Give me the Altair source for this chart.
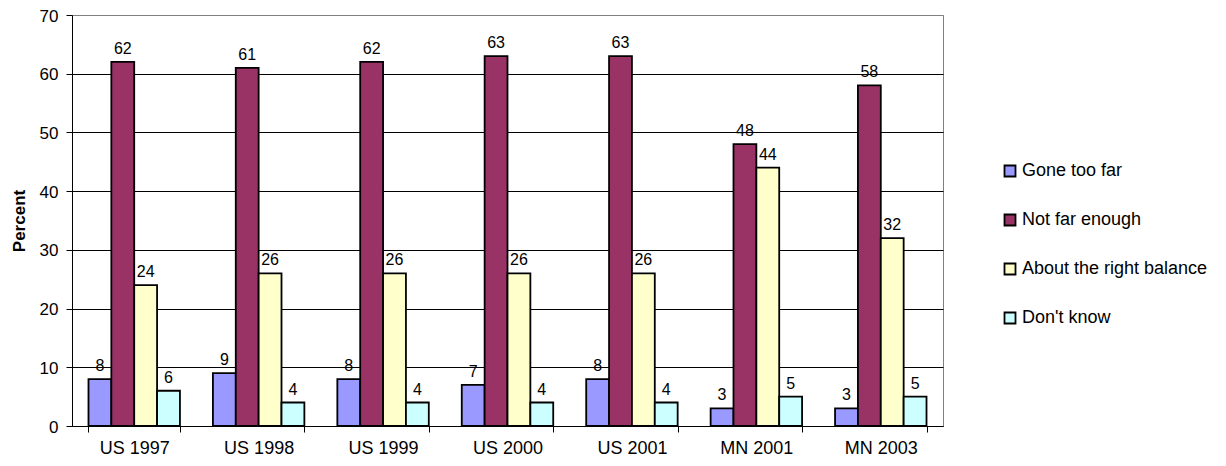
import altair as alt
import pandas as pd

categories = ["US 1997", "US 1998", "US 1999", "US 2000", "US 2001", "MN 2001", "MN 2003"]
series = ["Gone too far", "Not far enough", "About the right balance", "Don't know"]
gone_too_far = [8, 9, 8, 7, 8, 3, 3]
not_far_enough = [62, 61, 62, 63, 63, 48, 58]
right_balance = [24, 26, 26, 26, 26, 44, 32]
dont_know = [6, 4, 4, 4, 4, 5, 5]
colors = ["#9999FF", "#993366", "#FFFFCC", "#CCFFFF"]

values = [gone_too_far, not_far_enough, right_balance, dont_know]
rows = []
for s, vals in zip(series, values):
    for c, v in zip(categories, vals):
        rows.append({"Year": c, "Response": s, "Percent": v})
df = pd.DataFrame(rows)

FONT = "Liberation Sans"

x = alt.X("Year:N", sort=categories, title=None,
          scale=alt.Scale(paddingInner=0.265, paddingOuter=0.1325),
          axis=alt.Axis(labelAngle=0, labelFontSize=18, labelFont=FONT, labelColor="black",
                        domainColor="black", tickColor="black", tickBand="extent",
                        tickSize=6, labelPadding=7))
xo = alt.XOffset("Response:N", sort=series)
y = alt.Y("Percent:Q", title="Percent",
          scale=alt.Scale(domain=[0, 70]),
          axis=alt.Axis(values=[0, 10, 20, 30, 40, 50, 60, 70], labelFontSize=17, labelFont=FONT,
                        labelColor="black", titleFont=FONT, titleFontSize=17, titleFontWeight="bold",
                        titleColor="black", titlePadding=11, domainColor="black", tickColor="black",
                        tickSize=6, labelPadding=8, labelOffset=1,
                        gridColor={"condition": {"test": "datum.value >= 70", "value": "#808080"},
                                   "value": "#000000"}))

bars = alt.Chart(df).mark_bar(stroke="black", strokeWidth=1.8).encode(
    x=x, xOffset=xo, y=y,
    color=alt.Color("Response:N", sort=series, title=None,
                    scale=alt.Scale(domain=series, range=colors),
                    legend=alt.Legend(orient="none", legendX=929, legendY=147,
                                      symbolType="square", symbolSize=121,
                                      symbolStrokeColor="black", symbolStrokeWidth=1.8,
                                      labelFont=FONT, labelFontSize=18, labelColor="black",
                                      labelLimit=0, rowPadding=29, labelOffset=3)),
)

labels = alt.Chart(df).mark_text(dy=-13, fontSize=16, font=FONT, color="black").encode(
    x=alt.X("Year:N", sort=categories), xOffset=xo, y=alt.Y("Percent:Q"),
    text=alt.Text("Percent:Q"),
)

chart = (bars + labels).properties(
    width=871, height=411,
    autosize=alt.AutoSizeParams(type="none"),
    padding={"left": 64, "top": 7, "right": 275, "bottom": 32},
).configure_view(stroke="#808080", strokeWidth=1).configure_axis(grid=True).configure_axisX(grid=False)

chart.save("out.html", embed_options={"renderer": "svg", "actions": False})
